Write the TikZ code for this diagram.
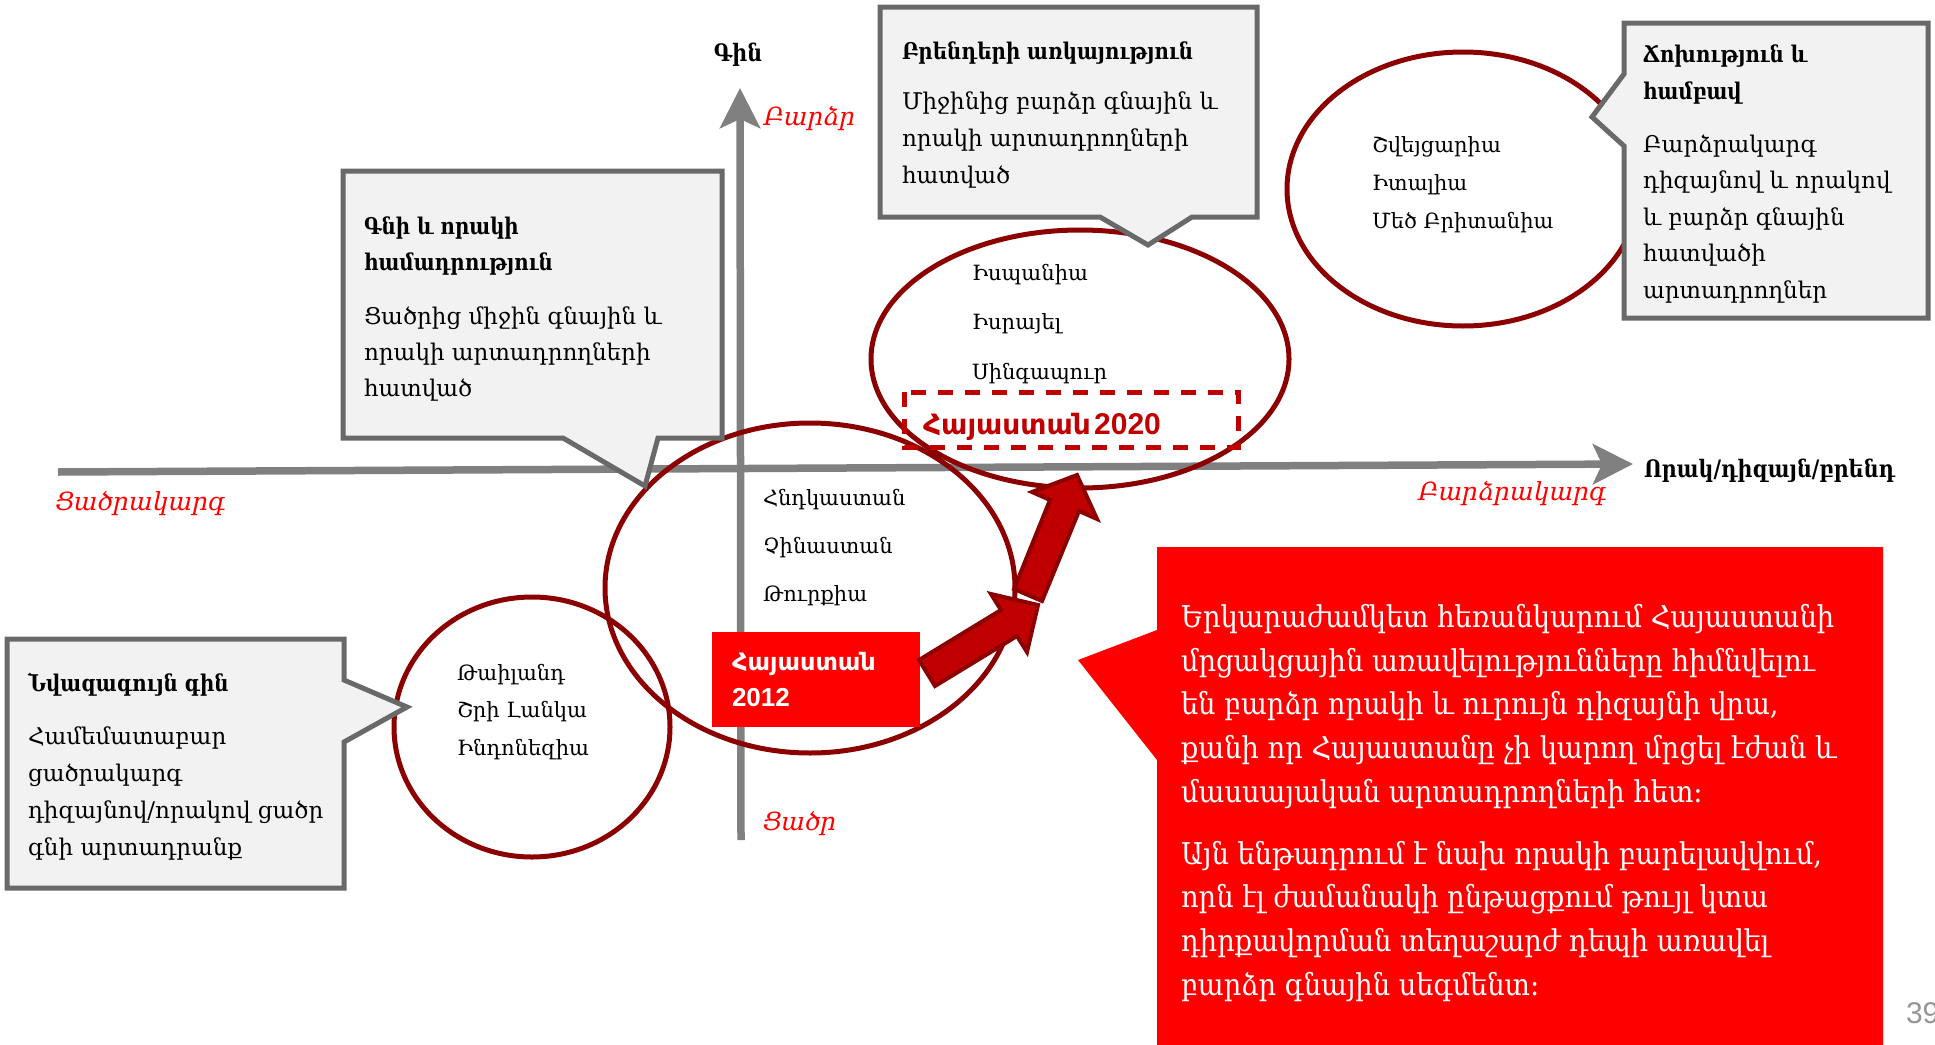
\documentclass[tikz,border=0pt]{standalone}
\usepackage{fontspec}
\usetikzlibrary{arrows.meta}
\newfontfamily\arm{DejaVu Serif}
\newfontfamily\armbold[FakeStretch=0.86]{DejaVu Serif}
\newfontfamily\armred[FakeStretch=0.91]{DejaVu Serif}
\newfontfamily\armit[FakeSlant=0.22]{DejaVu Serif}
\newfontfamily\armcond[FakeStretch=0.86]{DejaVu Serif}
\newfontfamily\armsans{DejaVu Sans}
\newfontfamily\lsans{Liberation Sans}
\newcommand\ttl[1]{{\armbold\bfseries #1}}
\definecolor{axisgray}{RGB}{128,128,128}
\definecolor{boxgray}{RGB}{105,105,105}
\definecolor{boxfill}{RGB}{242,242,242}
\definecolor{ellred}{RGB}{139,0,0}
\definecolor{darkred}{RGB}{192,0,0}
\definecolor{purered}{RGB}{255,0,0}
\definecolor{pagegray}{RGB}{150,150,150}
\begin{document}
\begin{tikzpicture}[x=1pt,y=-1pt,
  axis/.style={draw=axisgray, line width=7.5pt, -{Stealth[length=40pt,width=40pt,inset=9pt]}},
  ell/.style={draw=ellred, line width=5pt},
  callout/.style={draw=boxgray, fill=boxfill, line width=5pt, line join=miter},
  dashbox/.style={draw=darkred, line width=5pt, dash pattern=on 15pt off 12pt},
  barrow/.style={fill=darkred, draw=ellred, line width=4pt, line join=miter},
  txt/.style={inner sep=0pt, outer sep=0pt, align=left, anchor=base west},
  boxtxt/.style={txt, font=\arm\fontsize{23}{36.5}\selectfont},
  elltxt/.style={txt, font=\arm\fontsize{21}{38}\selectfont},
  redlab/.style={inner sep=0pt, outer sep=0pt, anchor=base, text=purered, font=\armit\fontsize{25}{30}\selectfont}
]
\path[use as bounding box, fill=white] (0,0) rectangle (1935,1044);

% axes
\coordinate (hx0) at (58,472);
\coordinate (hx1) at (1633,464);
\coordinate (vy0) at (741,840);
\coordinate (vy1) at (740,88);
\draw[axis] (hx0) -- (hx1);
\draw[axis] (vy0) -- (vy1);

% ellipses
\draw[ell] (532,727) ellipse [x radius=138, y radius=130];
\draw[ell] (810,588) ellipse [x radius=205, y radius=165];
\draw[ell] (1080,359) ellipse [x radius=209, y radius=129];
\draw[ell] (1463,189) ellipse [x radius=176, y radius=137];

% callout boxes
\draw[callout] (343,171) -- (722,171) -- (722,438) -- (658,438) -- (645,486) -- (563,438) -- (343,438) -- cycle;
\draw[callout] (880,7) -- (1257,7) -- (1257,217) -- (1192,217) -- (1148,245) -- (1100,217) -- (880,217) -- cycle;
\draw[callout] (1624,23) -- (1928,23) -- (1928,318) -- (1624,318) -- (1624,146) -- (1592,117) -- (1624,74) -- cycle;
\draw[callout] (7,639) -- (344,639) -- (344,680) -- (407,707) -- (344,742) -- (344,888) -- (7,888) -- cycle;

% Armenia 2020 dashed box
\draw[dashbox] (904,392) rectangle (1238,447);

% Armenia 2012 red box
\fill[purered] (712,632) rectangle (920,727);

% block arrows
\filldraw[barrow] (919,660) -- (1001,610) -- (991,594) -- (1038,605) -- (1027,652) -- (1017,636) -- (935,686) -- cycle;
\filldraw[barrow] (1014,589) -- (1050,500) -- (1032,492) -- (1077,475) -- (1097,519) -- (1079,511) -- (1042,601) -- cycle;

% big red callout
\fill[purered] (1157,547) -- (1883,547) -- (1883,1050) -- (1157,1050) -- (1157,760) -- (1078,660) -- (1157,630) -- cycle;

% axis labels
\node[inner sep=0pt, anchor=base, font=\armbold\bfseries\fontsize{24}{28}\selectfont] (gin) at (738,61) {Գին};
\node[redlab] (barcr) at (808,125) {Բարձր};
\node[redlab] (cacr) at (798,830) {Ցածր};
\node[redlab] (cacrak) at (139,510) {Ցածրակարգ};
\node[redlab] (barcrak) at (1511,500) {Բարձրակարգ};
\node[txt, font=\armcond\bfseries\fontsize{24}{28}\selectfont] (orak) at (1644,477) {Որակ/դիզայն/բրենդ};

% box texts (base anchor = baseline of the last line)
\node[boxtxt, font=\arm\fontsize{23}{36}\selectfont] (t1) at (364,396) {\ttl{Գնի և որակի}\\\ttl{համադրություն}\\[18pt]Ցածրից միջին գնային և\\որակի արտադրողների\\հատված};
\node[boxtxt, font=\arm\fontsize{23}{37}\selectfont] (t2) at (902,183) {\ttl{Բրենդերի առկայություն}\\[13pt]Միջինից բարձր գնային և\\որակի արտադրողների\\հատված};
\node[boxtxt] (t3) at (1643,298) {\ttl{Ճոխություն և}\\\ttl{համբավ}\\[16.5pt]Բարձրակարգ\\դիզայնով և որակով\\և բարձր գնային\\հատվածի\\արտադրողներ};
\node[boxtxt, font=\arm\fontsize{23}{37}\selectfont] (t4) at (28,855) {\ttl{Նվազագույն գին}\\[16pt]Համեմատաբար\\ցածրակարգ\\դիզայնով/որակով ցածր\\գնի արտադրանք};

% ellipse texts
\node[elltxt, font=\arm\fontsize{21}{37.5}\selectfont] (e1) at (457,755) {Թաիլանդ\\Շրի Լանկա\\Ինդոնեզիա};
\node[elltxt, font=\arm\fontsize{21}{48}\selectfont] (e2) at (763,601) {Հնդկաստան\\Չինաստան\\Թուրքիա};
\node[elltxt, font=\arm\fontsize{21}{49.5}\selectfont] (e3) at (972,379) {Իսպանիա\\Իսրայել\\Սինգապուր};
\node[elltxt, font=\arm\fontsize{21}{38}\selectfont] (e4) at (1372,228) {Շվեյցարիա\\Իտալիա\\Մեծ Բրիտանիա};

% Armenia labels
\node[txt, text=darkred] (arm20) at (923,434) {{\armsans\bfseries\fontsize{28}{32}\selectfont Հայաստան} {\lsans\bfseries\fontsize{30}{32}\selectfont 2020}};
\node[txt, text=white, font=\fontsize{26}{36}\selectfont] (arm12) at (732,706) {{\armsans\bfseries\fontsize{24}{36}\selectfont Հայաստան}\\{\lsans\bfseries 2012}};

% red callout text
\node[txt, text=white, font=\armred\fontsize{30}{43.6}\selectfont] (red) at (1181,995) {Երկարաժամկետ հեռանկարում Հայաստանի\\մրցակցային առավելությունները հիմնվելու\\են բարձր որակի և ուրույն դիզայնի վրա,\\քանի որ Հայաստանը չի կարող մրցել էժան և\\մասսայական արտադրողների հետ:\\[18.5pt]Այն ենթադրում է նախ որակի բարելավվում,\\որն էլ ժամանակի ընթացքում թույլ կտա\\դիրքավորման տեղաշարժ դեպի առավել\\բարձր գնային սեգմենտ:};

% page number
\node[txt, text=pagegray, font=\lsans\fontsize{30}{34}\selectfont] (pg) at (1906,1023) {39};
\end{tikzpicture}
\end{document}
